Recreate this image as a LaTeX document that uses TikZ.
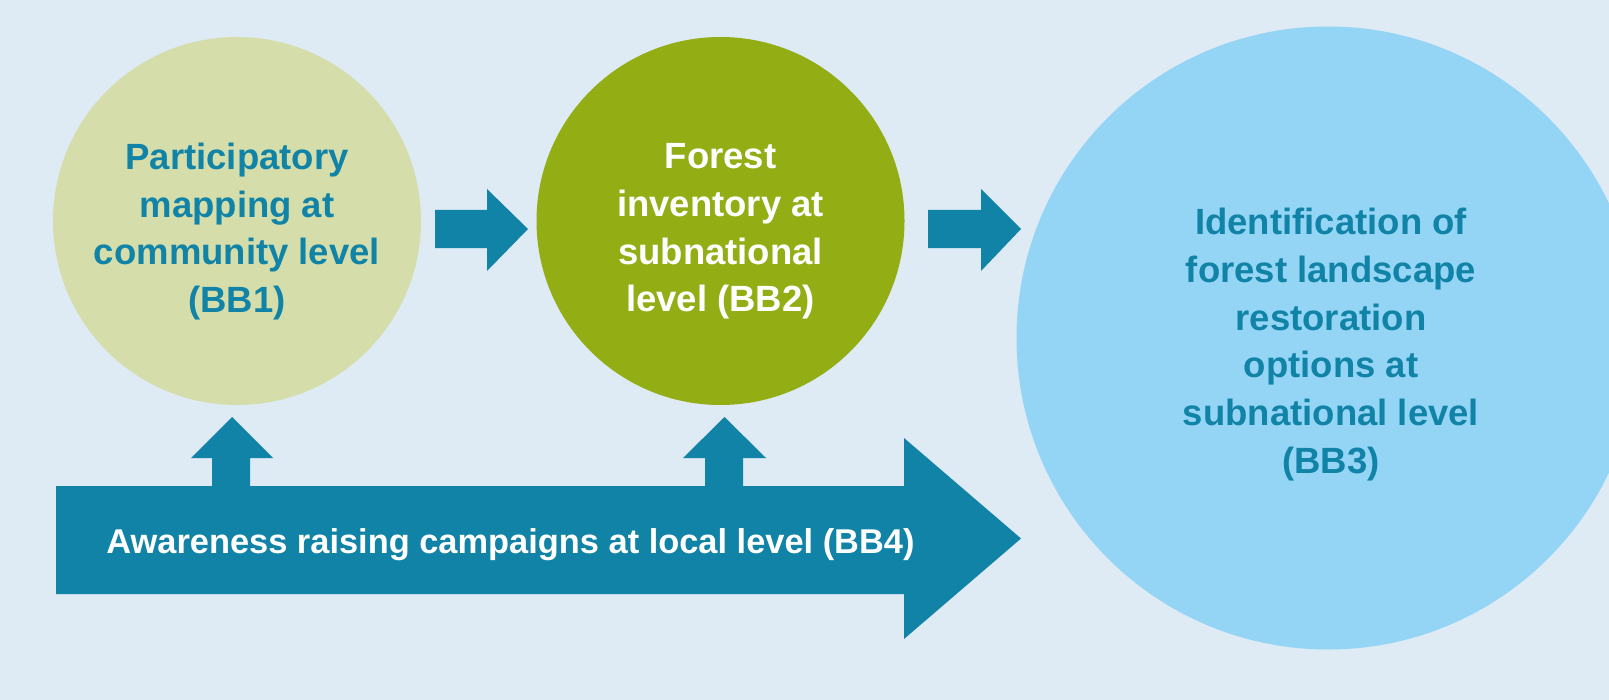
\documentclass[tikz,border=0pt]{standalone}
\usepackage{fontspec}
\setmainfont{Liberation Sans}
\definecolor{bgc}{HTML}{DEEAF4}
\definecolor{teal}{HTML}{1083A6}
\definecolor{paleg}{HTML}{D5DEAB}
\definecolor{olive}{HTML}{92AE14}
\definecolor{skyb}{HTML}{94D5F6}
\tikzset{
  bubble/.style={circle, inner sep=0pt, draw=none},
  lbl/.style={align=center, inner sep=0pt, font=\bfseries\fontsize{18.25}{23.9}\selectfont},
  blockarrow/.style={fill=teal, draw=none}
}
\begin{document}
\begin{tikzpicture}[x=0.5pt,y=-0.5pt]
\useasboundingbox (0,0) rectangle (1609,700);
\fill[bgc] (0,0) rectangle (1609,700);
\begin{scope}
\clip (0,0) rectangle (1609,700);
\node[bubble, fill=paleg, minimum size=184pt] (c1) at (237,221) {};
\node[bubble, fill=olive, minimum size=184pt] (c2) at (720.5,221) {};
\node[bubble, fill=skyb, minimum size=311.5pt] (c3) at (1328,338) {};
\end{scope}
\node[lbl, text=teal] (t1) at (237,231.5) {Participatory\\mapping at\\community level\\(BB1)};
\node[lbl, text=white] (t2) at (720.5,231.5) {Forest\\inventory at\\subnational\\level (BB2)};
\node[lbl, text=teal] (t3) at (1331,344.5) {Identification of\\forest landscape\\restoration\\options at\\subnational level\\(BB3)};
% right arrows between circles
\fill[blockarrow] (435,210) -- (487,210) -- (487,189) -- (528,229) -- (487,271) -- (487,248) -- (435,248) -- cycle;
\fill[blockarrow] (928,210) -- (981,210) -- (981,189) -- (1021,229) -- (981,271) -- (981,248) -- (928,248) -- cycle;
% big arrow with up arrows
\fill[blockarrow] (56,486) -- (212,486) -- (212,458) -- (191,458) -- (232,417) -- (273,458) -- (250,458) -- (250,486)
  -- (705,486) -- (705,458) -- (683,458) -- (724.5,417) -- (766,458) -- (743,458) -- (743,486)
  -- (904,486) -- (904,438) -- (1021,538.5) -- (904,639) -- (904,594) -- (56,594) -- cycle;
\node[lbl, text=white, font=\bfseries\fontsize{17.2}{20}\selectfont] (t4) at (510.5,545) {Awareness raising campaigns at local level (BB4)};
\end{tikzpicture}
\end{document}
